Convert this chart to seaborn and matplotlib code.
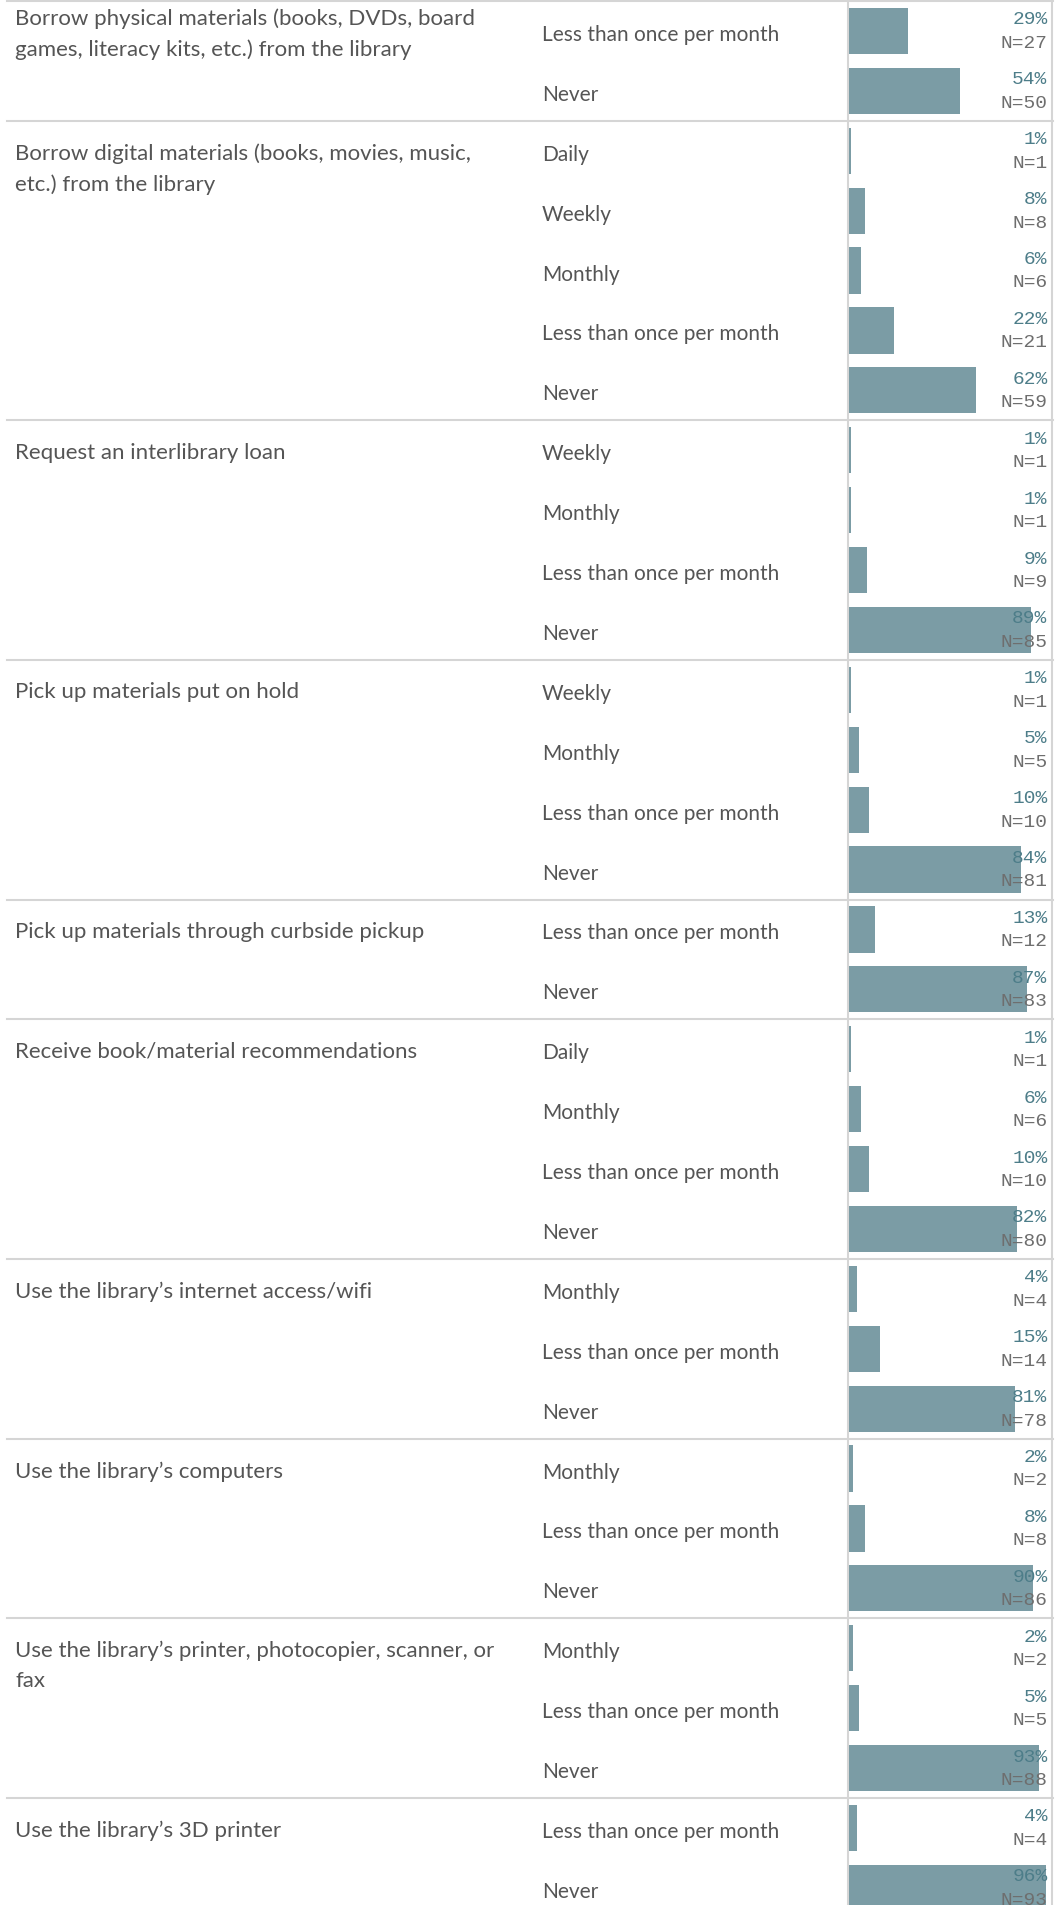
import pandas as pd
import seaborn as sns
import matplotlib.pyplot as plt
from matplotlib.lines import Line2D
from matplotlib.transforms import blended_transform_factory

# survey data, one inner list per activity
categories = [
    "Borrow physical materials (books, DVDs, board\ngames, literacy kits, etc.) from the library",
    "Borrow digital materials (books, movies, music,\netc.) from the library",
    "Request an interlibrary loan",
    "Pick up materials put on hold",
    "Pick up materials through curbside pickup",
    "Receive book/material recommendations",
    "Use the library\u2019s internet access/wifi",
    "Use the library\u2019s computers",
    "Use the library\u2019s printer, photocopier, scanner, or\nfax",
    "Use the library\u2019s 3D printer",
]
LESS = "Less than once per month"
frequencies = [
    [LESS, "Never"],
    ["Daily", "Weekly", "Monthly", LESS, "Never"],
    ["Weekly", "Monthly", LESS, "Never"],
    ["Weekly", "Monthly", LESS, "Never"],
    [LESS, "Never"],
    ["Daily", "Monthly", LESS, "Never"],
    ["Monthly", LESS, "Never"],
    ["Monthly", LESS, "Never"],
    ["Monthly", LESS, "Never"],
    [LESS, "Never"],
]
percents = [
    [29, 54],
    [1, 8, 6, 22, 62],
    [1, 1, 9, 89],
    [1, 5, 10, 84],
    [13, 87],
    [1, 6, 10, 82],
    [4, 15, 81],
    [2, 8, 90],
    [2, 5, 93],
    [4, 96],
]
counts = [
    [27, 50],
    [1, 8, 6, 21, 59],
    [1, 1, 9, 85],
    [1, 5, 10, 81],
    [12, 83],
    [1, 6, 10, 80],
    [4, 14, 78],
    [2, 8, 86],
    [2, 5, 88],
    [4, 93],
]

rows = []
for ci, cat in enumerate(categories):
    for f, p, n in zip(frequencies[ci], percents[ci], counts[ci]):
        rows.append({"row": f"{ci}-{f}", "cat": ci, "freq": f, "pct": p, "n": n})
df = pd.DataFrame(rows)

W, H = 1063, 1906
ROW = 59.9  # px per row
TOP = 2     # px

fig = plt.figure(figsize=(W / 100, H / 100), dpi=100)
ax = fig.add_axes([848 / W, 0, 205 / W, 1])

grid_color = "#d5d5d5"
# zero line and right border, under the bars
fig.add_artist(Line2D([848 / W, 848 / W], [0, 1], transform=fig.transFigure,
                      color=grid_color, linewidth=1.5, zorder=0))
fig.add_artist(Line2D([1052 / W, 1052 / W], [0, 1], transform=fig.transFigure,
                      color=grid_color, linewidth=1.5, zorder=0))
ax.patch.set_alpha(0)

bar_color = "#7b9ca5"
sns.barplot(data=df, x="pct", y="row", order=list(df["row"]), orient="h",
            color=bar_color, saturation=1, width=0.77, errorbar=None,
            linewidth=0, ax=ax)

ax.set_xlim(-0.4, 99.6)
y_top = -0.5 - TOP / ROW
ax.set_ylim(y_top + H / ROW, y_top)
ax.axis("off")

label_font = ["Lato", "DejaVu Sans"]
mono_font = ["Liberation Mono", "DejaVu Sans Mono"]
txt_color = "#555555"

tr = blended_transform_factory(fig.transFigure, ax.transData)

# frequency labels and value labels
for i, r in df.iterrows():
    fig.text(542 / W, i + 0.05, r["freq"], transform=tr, ha="left", va="center",
             fontsize=15, color=txt_color, family=label_font)
    ax.text(96.9, i - 0.2, f"{r['pct']}%", ha="right", va="center",
            fontsize=14, color="#4d7d89", family=mono_font, zorder=5)
    ax.text(96.9, i + 0.19, f"N={r['n']}", ha="right", va="center",
            fontsize=14, color="#6e6e6e", family=mono_font, zorder=5)

# category labels and separators
start = 0
for ci, cat in enumerate(categories):
    if ci == 0:
        fig.text(15 / W, start + 0.04, cat, transform=tr, ha="left", va="center",
                 fontsize=16, color=txt_color, family=label_font, linespacing=1.62)
    else:
        fig.text(15 / W, start - 0.14, cat, transform=tr, ha="left", va="top",
                 fontsize=16, color=txt_color, family=label_font, linespacing=1.62)
    fig.add_artist(Line2D([7 / W, 1053 / W], [start - 0.5, start - 0.5], transform=tr,
                          color=grid_color, linewidth=1.5))
    start += len(frequencies[ci])

fig.savefig("out.png", dpi=100)
